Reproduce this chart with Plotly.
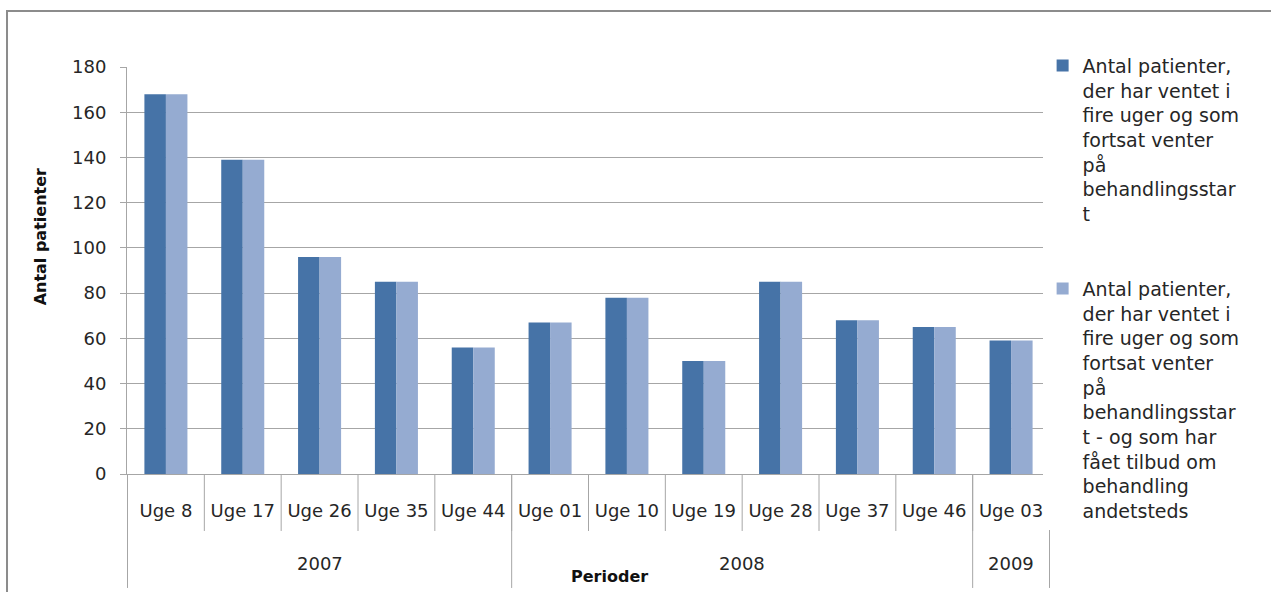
import plotly.graph_objects as go

# Week labels, their year, and the two patient counts per period
weeks = ["Uge 8", "Uge 17", "Uge 26", "Uge 35", "Uge 44",
         "Uge 01", "Uge 10", "Uge 19", "Uge 28", "Uge 37", "Uge 46",
         "Uge 03"]
years = ["2007"] * 5 + ["2008"] * 6 + ["2009"]
waiting = [168, 139, 96, 85, 56, 67, 78, 50, 85, 68, 65, 59]
waiting_offered = [168, 139, 96, 85, 56, 67, 78, 50, 85, 68, 65, 59]

name_waiting = ("Antal patienter,<br>der har ventet i<br>fire uger og som<br>"
                "fortsat venter<br>på<br>behandlingsstar<br>t")
name_offered = ("Antal patienter,<br>der har ventet i<br>fire uger og som<br>"
                "fortsat venter<br>på<br>behandlingsstar<br>t - og som har<br>"
                "fået tilbud om<br>behandling<br>andetsteds")

FONT = "DejaVu Sans"
TXT = "#262626"
GRID = "#a6a6a6"

fig = go.Figure()
fig.add_trace(go.Bar(x=weeks, y=waiting, name=name_waiting,
                     marker=dict(color="#4673a7", line=dict(width=0)),
                     legendgroup="a"))
fig.add_trace(go.Bar(x=weeks, y=waiting_offered, name=name_offered,
                     marker=dict(color="#95abd1", line=dict(width=0)),
                     legendgroup="b"))

# short separators between the week labels
for i in range(len(weeks) + 1):
    fig.add_shape(type="line", xref="x", yref="paper",
                  x0=i - 0.5, x1=i - 0.5, y0=0, y1=-0.14,
                  line=dict(color=GRID, width=1))

# year groups: long dividers and a centred year label per group
groups = []
for i, yr in enumerate(years):
    if groups and groups[-1][0] == yr:
        groups[-1][2] = i
    else:
        groups.append([yr, i, i])
for yr, first, last in groups:
    fig.add_shape(type="line", xref="x", yref="paper",
                  x0=first - 0.5, x1=first - 0.5, y0=0, y1=-0.28,
                  line=dict(color=GRID, width=1))
    fig.add_annotation(text=yr, xref="x", yref="paper",
                       x=(first + last) / 2, y=-0.219, showarrow=False,
                       xanchor="center", yanchor="middle",
                       font=dict(family=FONT, size=18, color=TXT))
fig.add_shape(type="line", xref="x", yref="paper",
              x0=groups[-1][2] + 0.5, x1=groups[-1][2] + 0.5, y0=0, y1=-0.28,
              line=dict(color=GRID, width=1))

# outer chart frame
fig.add_shape(type="rect", xref="paper", yref="paper",
              x0=-0.130, x1=1.25, y0=-0.32, y1=1.1376,
              line=dict(color="#8c8c8c", width=2))

fig.add_annotation(text="<b>Antal patienter</b>", textangle=-90,
                   xref="paper", yref="paper", x=-0.094, y=0.582,
                   xanchor="center", yanchor="middle",
                   showarrow=False, font=dict(family=FONT, size=16, color="#111"))
fig.add_annotation(text="<b>Perioder</b>",
                   xref="paper", yref="paper", x=0.523, y=-0.251,
                   xanchor="center", yanchor="middle",
                   showarrow=False, font=dict(family=FONT, size=16, color="#111"))

fig.update_layout(
    width=1271, height=592,
    margin=dict(l=127, r=221, t=67, b=118),
    paper_bgcolor="white", plot_bgcolor="white",
    barmode="group", bargap=0.44, bargroupgap=0,
    font=dict(family=FONT, size=18, color=TXT),
    showlegend=True,
    legend=dict(x=0.992, y=1.05, xanchor="left", yanchor="top",
                valign="top", traceorder="grouped", tracegroupgap=47,
                font=dict(family=FONT, size=19, color=TXT),
                itemwidth=30, maxheight=590),
    xaxis=dict(type="category", showgrid=False, ticks="",
               showline=True, linecolor=GRID, linewidth=1,
               ticklabelstandoff=20,
               tickfont=dict(family=FONT, size=18, color=TXT)),
    yaxis=dict(range=[0, 180], dtick=20, showgrid=True, gridcolor=GRID,
               gridwidth=1, showline=True, linecolor=GRID, linewidth=1,
               ticks="outside", ticklen=6, tickcolor=GRID, zeroline=False,
               ticklabelstandoff=10,
               tickfont=dict(family=FONT, size=18, color=TXT)),
)

fig.write_html("out.html")
